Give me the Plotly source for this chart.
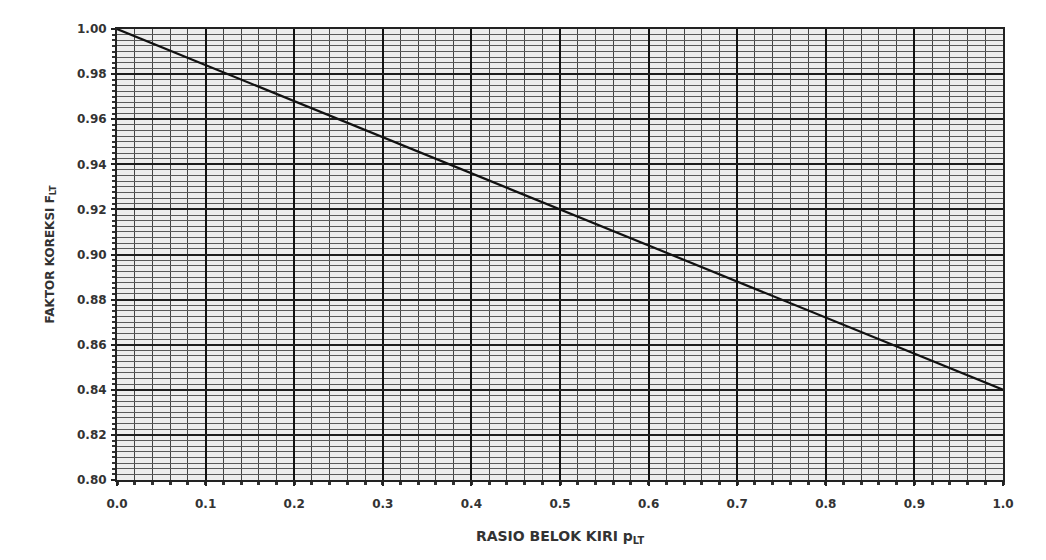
import plotly.graph_objects as go

# Data
rasio_belok_kiri = [0.0, 1.0]
faktor_koreksi = [1.00, 0.84]

x_ticks = [0.0, 0.1, 0.2, 0.3, 0.4, 0.5, 0.6, 0.7, 0.8, 0.9, 1.0]
x_ticklabels = ["0.0", "0.1", "0.2", "0.3", "0.4", "0.5", "0.6", "0.7", "0.8", "0.9", "1.0"]
y_ticks = [0.80, 0.82, 0.84, 0.86, 0.88, 0.90, 0.92, 0.94, 0.96, 0.98, 1.00]
y_ticklabels = ["0.80", "0.82", "0.84", "0.86", "0.88", "0.90", "0.92", "0.94", "0.96", "0.98", "1.00"]

FONT = "DejaVu Sans"
INK = "#333333"

fig = go.Figure()
fig.add_trace(go.Scatter(
    x=rasio_belok_kiri, y=faktor_koreksi, mode="lines",
    line=dict(color="#111111", width=2.2), showlegend=False, hoverinfo="skip"))

fig.update_layout(
    width=1030, height=544,
    margin=dict(l=109, r=35, t=21, b=72),
    paper_bgcolor="white", plot_bgcolor="#ededed",
    font=dict(family=FONT, color=INK, size=12),
)

fig.update_xaxes(
    range=[0, 1.0], tickmode="array", tickvals=x_ticks, ticktext=x_ticklabels,
    automargin=False,
    showgrid=True, gridcolor="#111111", gridwidth=2,
    ticks="outside", ticklen=4, tickwidth=2, tickcolor="#222",
    ticklabelstandoff=8,
    tickfont=dict(family=FONT, size=12, color=INK, weight="bold"),
    showline=True, linecolor="#222", linewidth=2, mirror=True,
    zeroline=False,
    minor=dict(dtick=0.02, showgrid=True, gridcolor="#444444", gridwidth=1.4,
               ticks="outside", ticklen=3, tickwidth=2.5, tickcolor="#333"),
    title=dict(text="<b>RASIO BELOK KIRI p<sub>LT</sub></b>",
               font=dict(family=FONT, size=14, color=INK), standoff=21),
)

fig.update_yaxes(
    range=[0.80, 1.00], tickmode="array", tickvals=y_ticks, ticktext=y_ticklabels,
    automargin=False,
    showgrid=True, gridcolor="#1e1e1e", gridwidth=1.6,
    ticks="outside", ticklen=4, tickwidth=2, tickcolor="#222",
    ticklabelstandoff=2,
    tickfont=dict(family=FONT, size=12, color=INK, weight="bold"),
    showline=True, linecolor="#222", linewidth=2, mirror=True,
    zeroline=False,
    minor=dict(dtick=0.0025, showgrid=True, gridcolor="#5a5a5a", gridwidth=1.2,
               ticks="outside", ticklen=3, tickwidth=2, tickcolor="#333"),
    title=dict(text="<b>FAKTOR KOREKSI F<sub>LT</sub></b>",
               font=dict(family=FONT, size=12, color=INK), standoff=20),
)

fig.write_html("out.html")
